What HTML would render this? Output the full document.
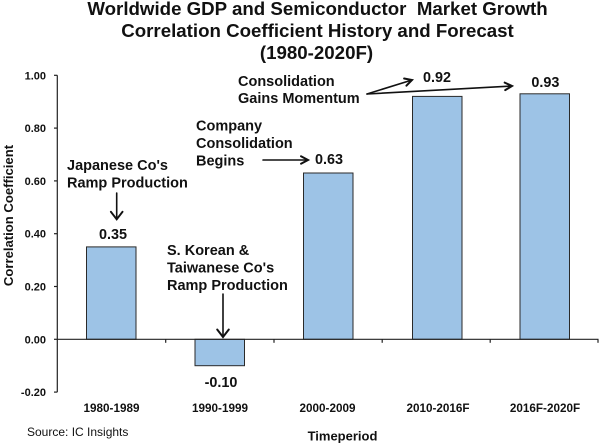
<!DOCTYPE html>
<html><head><meta charset="utf-8"><style>
html,body{margin:0;padding:0;background:#fff;}
svg{display:block;}
text{font-family:"Liberation Sans",Arial,sans-serif;fill:#111;}
.b{font-weight:bold;}
</style></head><body>
<svg width="600" height="443" viewBox="0 0 600 443" xmlns="http://www.w3.org/2000/svg">
<rect width="600" height="443" fill="#fff"/>
<!-- Title -->
<text class="b" x="317.5" y="15" font-size="18.7" text-anchor="middle">Worldwide GDP and Semiconductor&#160; Market Growth</text>
<text class="b" x="317.5" y="37" font-size="18.7" text-anchor="middle">Correlation Coefficient History and Forecast</text>
<text class="b" x="316.5" y="59" font-size="18.7" text-anchor="middle">(1980-2020F)</text>

<!-- Bars -->
<g fill="#9dc3e6" stroke="#2a2a2a" stroke-width="1">
<rect x="86.5" y="246.9" width="49.5" height="92.4"/>
<rect x="195" y="339.3" width="49.5" height="26.4"/>
<rect x="303.5" y="173" width="49.5" height="166.3"/>
<rect x="412.5" y="96.4" width="49.5" height="242.9"/>
<rect x="520" y="93.8" width="49.5" height="245.5"/>
</g>

<!-- Axes -->
<g stroke="#222" stroke-width="1.2" fill="none">
<line x1="57.3" y1="75.3" x2="57.3" y2="392.1"/>
<line x1="57.3" y1="339.3" x2="598.5" y2="339.3"/>
<line x1="54" y1="75.3" x2="57.3" y2="75.3"/>
<line x1="54" y1="128.1" x2="57.3" y2="128.1"/>
<line x1="54" y1="180.9" x2="57.3" y2="180.9"/>
<line x1="54" y1="233.7" x2="57.3" y2="233.7"/>
<line x1="54" y1="286.5" x2="57.3" y2="286.5"/>
<line x1="54" y1="339.3" x2="57.3" y2="339.3"/>
<line x1="54" y1="392.1" x2="57.3" y2="392.1"/>
<line x1="165.7" y1="339.3" x2="165.7" y2="342.8"/>
<line x1="274" y1="339.3" x2="274" y2="342.8"/>
<line x1="382.2" y1="339.3" x2="382.2" y2="342.8"/>
<line x1="490.2" y1="339.3" x2="490.2" y2="342.8"/>
<line x1="598" y1="339.3" x2="598" y2="342.8"/>
</g>

<!-- Y tick labels -->
<g class="b" font-size="11" text-anchor="end">
<text class="b" x="46" y="79.3">1.00</text>
<text class="b" x="46" y="132.1">0.80</text>
<text class="b" x="46" y="184.9">0.60</text>
<text class="b" x="46" y="237.7">0.40</text>
<text class="b" x="46" y="290.5">0.20</text>
<text class="b" x="46" y="343.3">0.00</text>
<text class="b" x="46" y="396.1">-0.20</text>
</g>

<!-- Y axis title -->
<text class="b" font-size="13.1" text-anchor="middle" transform="translate(13,215.5) rotate(-90)">Correlation Coefficient</text>

<!-- X labels -->
<g font-size="11.7" text-anchor="middle">
<text class="b" x="111.5" y="412">1980-1989</text>
<text class="b" x="220" y="412">1990-1999</text>
<text class="b" x="327.5" y="412">2000-2009</text>
<text class="b" x="438" y="412">2010-2016F</text>
<text class="b" x="545" y="412">2016F-2020F</text>
</g>
<text class="b" x="342.5" y="440.5" font-size="13" text-anchor="middle">Timeperiod</text>
<text x="27" y="436" font-size="12">Source: IC Insights</text>

<!-- Data labels -->
<g font-size="14.4" text-anchor="middle">
<text class="b" x="113" y="239">0.35</text>
<text class="b" x="221" y="387">-0.10</text>
<text class="b" x="329" y="164">0.63</text>
<text class="b" x="437" y="82">0.92</text>
<text class="b" x="545.4" y="87">0.93</text>
</g>

<!-- Annotations -->
<g font-size="14.5">
<text class="b" x="238" y="86">Consolidation</text>
<text class="b" x="238" y="103">Gains Momentum</text>
<text class="b" x="196" y="130.5">Company</text>
<text class="b" x="196" y="148">Consolidation</text>
<text class="b" x="196" y="165.5">Begins</text>
<text class="b" x="67" y="170">Japanese Co's</text>
<text class="b" x="67" y="187.5">Ramp Production</text>
<text class="b" x="167" y="255">S. Korean &amp;</text>
<text class="b" x="167" y="272.5">Taiwanese Co's</text>
<text class="b" x="167" y="290">Ramp Production</text>
</g>

<!-- Arrows -->
<g stroke="#111" stroke-width="1.6" fill="none" stroke-linecap="round" stroke-linejoin="miter">
<line x1="367" y1="94" x2="412" y2="80"/>
<polyline points="404.1,78.5 412,80 406.4,85.7" stroke-width="2"/>
<line x1="367" y1="94" x2="512" y2="86"/>
<polyline points="504.7,82.6 512,86 505.2,90.1" stroke-width="2"/>
<line x1="263" y1="160" x2="308" y2="160"/>
<polyline points="301,156.3 308,160 301,163.7" stroke-width="2"/>
<line x1="116.7" y1="193" x2="116.7" y2="219.3"/>
<polyline points="110.9,211.8 116.7,219.3 122.5,211.8" stroke-width="2"/>
<line x1="223" y1="294" x2="223" y2="337"/>
<polyline points="217.2,329.5 223,337 228.8,329.5" stroke-width="2"/>
</g>
</svg>
</body></html>
